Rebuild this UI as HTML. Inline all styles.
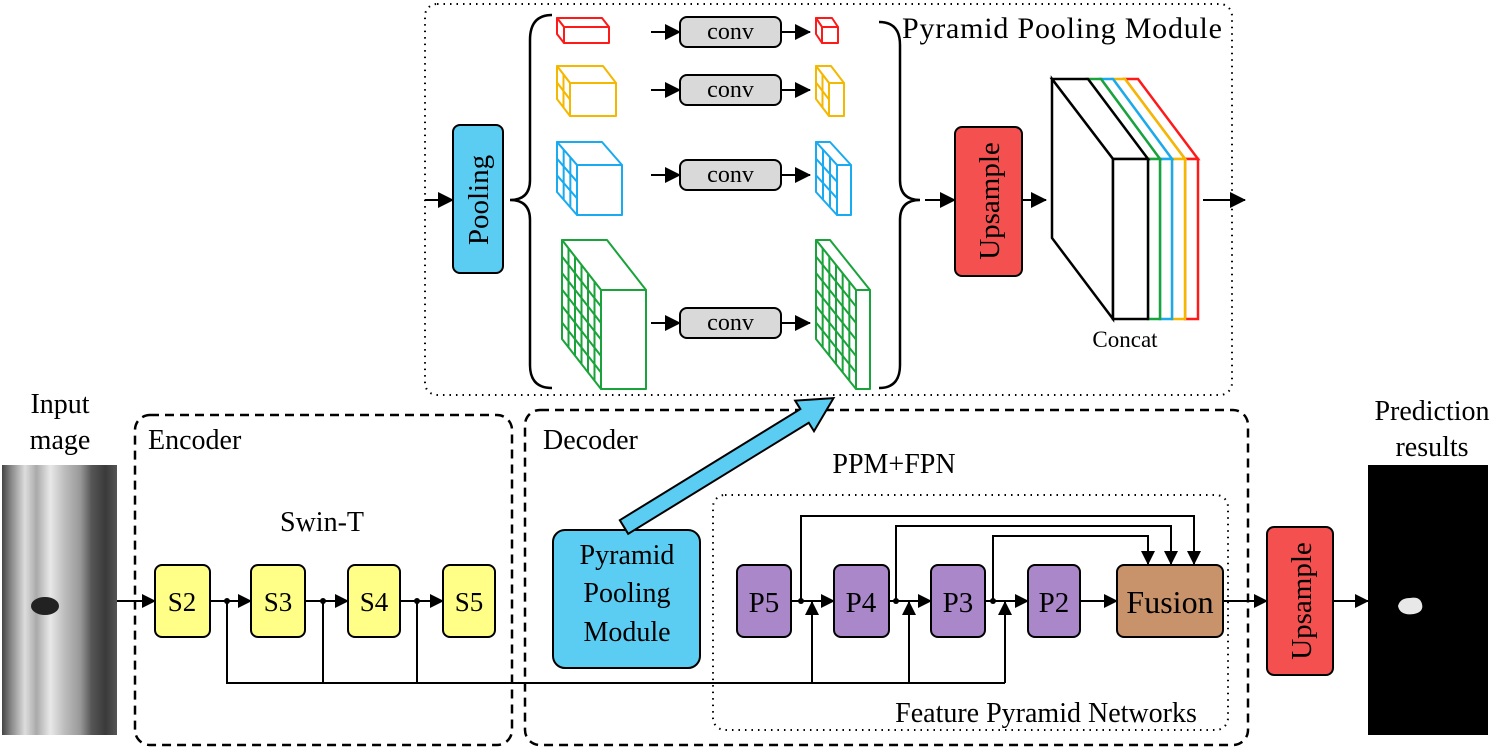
<!DOCTYPE html>
<html><head><meta charset="utf-8"><style>
html,body{margin:0;padding:0;background:#fff}
svg{display:block}
text{font-family:"Liberation Serif","DejaVu Serif",serif;fill:#000}
</style></head><body>
<svg id="s" width="1500" height="751" viewBox="0 0 1500 751" xmlns="http://www.w3.org/2000/svg" font-family="Liberation Serif, DejaVu Serif, serif">
<defs>
<marker id="a" markerWidth="14" markerHeight="14" refX="13" refY="7" orient="auto" markerUnits="userSpaceOnUse"><path d="M0,0 L14,7 L0,14 z" fill="#000"/></marker>
<marker id="b" markerWidth="16" markerHeight="16" refX="15" refY="8" orient="auto" markerUnits="userSpaceOnUse"><path d="M0,0 L16,8 L0,16 z" fill="#000"/></marker>
<linearGradient id="img" x1="0" x2="1" y1="0" y2="0">
<stop offset="0" stop-color="#444"/><stop offset="0.08" stop-color="#888"/><stop offset="0.2" stop-color="#ddd"/><stop offset="0.3" stop-color="#aaa"/><stop offset="0.42" stop-color="#e8e8e8"/><stop offset="0.55" stop-color="#bbb"/><stop offset="0.68" stop-color="#999"/><stop offset="0.78" stop-color="#555"/><stop offset="0.9" stop-color="#3a3a3a"/><stop offset="1" stop-color="#555"/>
</linearGradient>
</defs>
<g id="g" stroke-linecap="butt">
<rect x="425" y="4" width="807" height="391" rx="12" fill="none" stroke="#000" stroke-width="2" stroke-dasharray="1.5 5"/>
<rect x="135" y="415" width="377" height="330" rx="15" fill="none" stroke="#000" stroke-width="2.5" stroke-dasharray="9 6"/>
<rect x="525" y="410" width="723" height="335" rx="15" fill="none" stroke="#000" stroke-width="2.5" stroke-dasharray="9 6"/>
<rect x="713" y="495" width="515" height="235" rx="12" fill="none" stroke="#000" stroke-width="2" stroke-dasharray="1.5 5"/>

<text x="902" y="38" font-size="30" textLength="320">Pyramid Pooling Module</text>
<text x="60" y="413" font-size="28" text-anchor="middle">Input</text>
<text x="60" y="449" font-size="28" text-anchor="middle">mage</text>
<text x="148" y="449" font-size="28">Encoder</text>
<text x="322" y="531" font-size="28" text-anchor="middle">Swin-T</text>
<text x="543" y="449" font-size="28">Decoder</text>
<text x="894" y="473" font-size="28" text-anchor="middle">PPM+FPN</text>
<text x="1046" y="722" font-size="28" text-anchor="middle">Feature Pyramid Networks</text>
<text x="1432" y="420" font-size="28" text-anchor="middle">Prediction</text>
<text x="1432" y="456" font-size="28" text-anchor="middle">results</text>
<text x="1125" y="347" font-size="23" text-anchor="middle">Concat</text>

<rect x="2" y="465" width="115" height="270" fill="url(#img)"/>
<ellipse cx="45" cy="606" rx="14" ry="9" fill="#222"/>
<rect x="1368" y="465" width="120" height="270" fill="#000"/>
<path d="M1398,606 Q1400,598 1410,598 Q1420,596 1422,604 Q1424,612 1414,614 Q1400,616 1398,606z" fill="#e8e8e8"/>

<line x1="117" y1="601" x2="155" y2="601" stroke="#000" stroke-width="2" marker-end="url(#a)"/>
<line x1="210" y1="601" x2="251" y2="601" stroke="#000" stroke-width="2" marker-end="url(#a)"/>
<line x1="305" y1="601" x2="348" y2="601" stroke="#000" stroke-width="2" marker-end="url(#a)"/>
<line x1="400" y1="601" x2="443" y2="601" stroke="#000" stroke-width="2" marker-end="url(#a)"/>
<g fill="#ffff88" stroke="#000" stroke-width="2">
<rect x="155" y="565" width="55" height="72" rx="7"/>
<rect x="251" y="565" width="54" height="72" rx="7"/>
<rect x="348" y="565" width="52" height="72" rx="7"/>
<rect x="443" y="565" width="52" height="72" rx="7"/>
</g>
<g font-size="27" text-anchor="middle">
<text x="182" y="611">S2</text><text x="278" y="611">S3</text><text x="374" y="611">S4</text><text x="469" y="611">S5</text>
</g>
<g stroke="#000" stroke-width="2" fill="none">
<path d="M227,601 V683 H1005"/>
<line x1="323" y1="601" x2="323" y2="683"/>
<line x1="417" y1="601" x2="417" y2="683"/>
</g>
<g fill="#000"><circle cx="227" cy="601" r="3"/><circle cx="323" cy="601" r="3"/><circle cx="417" cy="601" r="3"/>
<circle cx="801" cy="601" r="3"/><circle cx="896" cy="601" r="3"/><circle cx="993" cy="601" r="3"/></g>

<g stroke="#000" stroke-width="2" fill="none">
<line x1="812" y1="683" x2="812" y2="602" marker-end="url(#a)"/>
<line x1="909" y1="683" x2="909" y2="602" marker-end="url(#a)"/>
<line x1="1005" y1="683" x2="1005" y2="602" marker-end="url(#a)"/>
<line x1="791" y1="601" x2="834" y2="601" marker-end="url(#a)"/>
<line x1="889" y1="601" x2="931" y2="601" marker-end="url(#a)"/>
<line x1="985" y1="601" x2="1028" y2="601" marker-end="url(#a)"/>
<line x1="1080" y1="601" x2="1117" y2="601" marker-end="url(#a)"/>
<path d="M801,601 V516 H1194 V564" marker-end="url(#a)"/>
<path d="M896,601 V526 H1171 V564" marker-end="url(#a)"/>
<path d="M993,601 V536 H1148 V564" marker-end="url(#a)"/>
<line x1="1223" y1="601" x2="1267" y2="601" marker-end="url(#a)"/>
<line x1="1333" y1="601" x2="1368" y2="601" marker-end="url(#a)"/>
</g>
<g fill="#a987c9" stroke="#000" stroke-width="2">
<rect x="737" y="565" width="54" height="72" rx="7"/>
<rect x="834" y="565" width="55" height="72" rx="7"/>
<rect x="931" y="565" width="54" height="72" rx="7"/>
<rect x="1028" y="565" width="52" height="72" rx="7"/>
</g>
<rect x="1117" y="565" width="106" height="72" rx="7" fill="#c8926a" stroke="#000" stroke-width="2"/>
<g font-size="29" text-anchor="middle">
<text x="764" y="612">P5</text><text x="861" y="612">P4</text><text x="958" y="612">P3</text><text x="1054" y="612">P2</text>
<text x="1170" y="613" font-size="32">Fusion</text>
</g>
<rect x="1267" y="527" width="66" height="148" rx="7" fill="#f55050" stroke="#000" stroke-width="2"/>
<text transform="translate(1311,601) rotate(-90)" font-size="29" text-anchor="middle">Upsample</text>

<rect x="553" y="530" width="147" height="138" rx="12" fill="#5bcdf3" stroke="#000" stroke-width="2"/>
<g font-size="28" text-anchor="middle"><text x="627" y="564">Pyramid</text><text x="627" y="602">Pooling</text><text x="627" y="641">Module</text></g>

<g transform="translate(624,527) rotate(-31.6)">
<polygon points="0,-8 212,-8 212,-18 246,0 212,18 212,8 0,8" fill="#5bcdf3" stroke="#000" stroke-width="2"/>
</g>

<line x1="425" y1="200" x2="453" y2="200" stroke="#000" stroke-width="2" marker-end="url(#b)"/>
<rect x="453" y="125" width="50" height="148" rx="7" fill="#5bcdf3" stroke="#000" stroke-width="2"/>
<text transform="translate(488,200) rotate(-90)" font-size="29" text-anchor="middle">Pooling</text>
<path d="M552,15 Q530,15 530,40 L530,180 Q530,200 510,200 Q530,200 530,220 L530,365 Q530,388 552,388" fill="none" stroke="#000" stroke-width="2.5"/>
<path d="M879,22 Q900,22 900,45 L900,180 Q900,200 920,200 Q900,200 900,220 L900,365 Q900,388 879,388" fill="none" stroke="#000" stroke-width="2.5"/>
<g id="convs"></g>
<g id="cubes"></g>
<line x1="925" y1="200" x2="955" y2="200" stroke="#000" stroke-width="2" marker-end="url(#b)"/>
<rect x="955" y="127" width="67" height="149" rx="7" fill="#f55050" stroke="#000" stroke-width="2"/>
<text transform="translate(999,201) rotate(-90)" font-size="29" text-anchor="middle">Upsample</text>
<line x1="1022" y1="200" x2="1046" y2="200" stroke="#000" stroke-width="2" marker-end="url(#b)"/>
<g id="concat"></g>
<line x1="1203" y1="200" x2="1245" y2="200" stroke="#000" stroke-width="2" marker-end="url(#b)"/>
</g>
</svg>
<script>
var NS="http://www.w3.org/2000/svg";
function el(p,t,a,txt){var e=document.createElementNS(NS,t);for(var k in a)e.setAttribute(k,a[k]);if(txt)e.textContent=txt;p.appendChild(e);return e;}
var cv=document.getElementById("convs");
[32,90,175,323].forEach(function(y){
 el(cv,"line",{x1:651,y1:y,x2:680,y2:y,stroke:"#000","stroke-width":2,"marker-end":"url(#b)"});
 el(cv,"line",{x1:781,y1:y,x2:810,y2:y,stroke:"#000","stroke-width":2,"marker-end":"url(#b)"});
 el(cv,"rect",{x:680,y:y-15,width:101,height:30,rx:7,fill:"#d9d9d9",stroke:"#000","stroke-width":2});
 el(cv,"text",{x:730.5,y:y+7,"font-size":24,"text-anchor":"middle"},"conv");
});
var cb=document.getElementById("cubes");
function cube(bx,by,fx,fy,fw,fh,n,c){
 var dx=fx-bx,dy=fy-by;
 var g=el(cb,"g",{fill:"#fff",stroke:c,"stroke-width":2,"stroke-linejoin":"round"});
 el(g,"polygon",{points:[bx,by,bx+fw,by,fx+fw,fy,fx,fy].join(",")});
 el(g,"polygon",{points:[bx,by,fx,fy,fx,fy+fh,bx,by+fh].join(",")});
 el(g,"rect",{x:fx,y:fy,width:fw,height:fh});
 for(var i=1;i<n;i++){var t=i/n;
  el(g,"line",{x1:bx+dx*t,y1:by+dy*t,x2:bx+dx*t,y2:by+dy*t+fh});
  el(g,"line",{x1:bx,y1:by+fh*t,x2:fx,y2:fy+fh*t});}
}
cube(557,18,564,27,45,16,1,"#ff1a1a");
cube(816,18,822,27,16,16,1,"#ff1a1a");
cube(557,66,570,83,46,33,2,"#f5b800");
cube(816,66,829,83,15,33,2,"#f5b800");
cube(557,142,577,165,45,50,3,"#19aaf0");
cube(816,142,837,165,14,50,3,"#19aaf0");
cube(562,240,601,290,45,99,6,"#1aa33a");
cube(816,240,856,290,14,99,6,"#1aa33a");
var cc=document.getElementById("concat");
var sl=[[1125,1138,1185,1198,"#ff1a1a"],[1113,1125,1172,1185,"#f5b800"],[1101,1113,1160,1172,"#19aaf0"],[1088,1101,1148,1160,"#1aa33a"]];
sl.forEach(function(s){
 el(cc,"polygon",{points:[s[0],79,s[1],79,s[3],159,s[2],159].join(","),fill:"#fff",stroke:s[4],"stroke-width":2.5});
 el(cc,"rect",{x:s[2],y:159,width:s[3]-s[2],height:160,fill:"#fff",stroke:s[4],"stroke-width":2.5});
});
el(cc,"polygon",{points:"1052,79 1088,79 1148,159 1113,159",fill:"#fff",stroke:"#000","stroke-width":2.5});
el(cc,"polygon",{points:"1052,79 1113,159 1113,319 1052,238",fill:"#fff",stroke:"#000","stroke-width":2.5});
el(cc,"rect",{x:1113,y:159,width:35,height:160,fill:"#fff",stroke:"#000","stroke-width":2.5});
</script>
</body></html>
